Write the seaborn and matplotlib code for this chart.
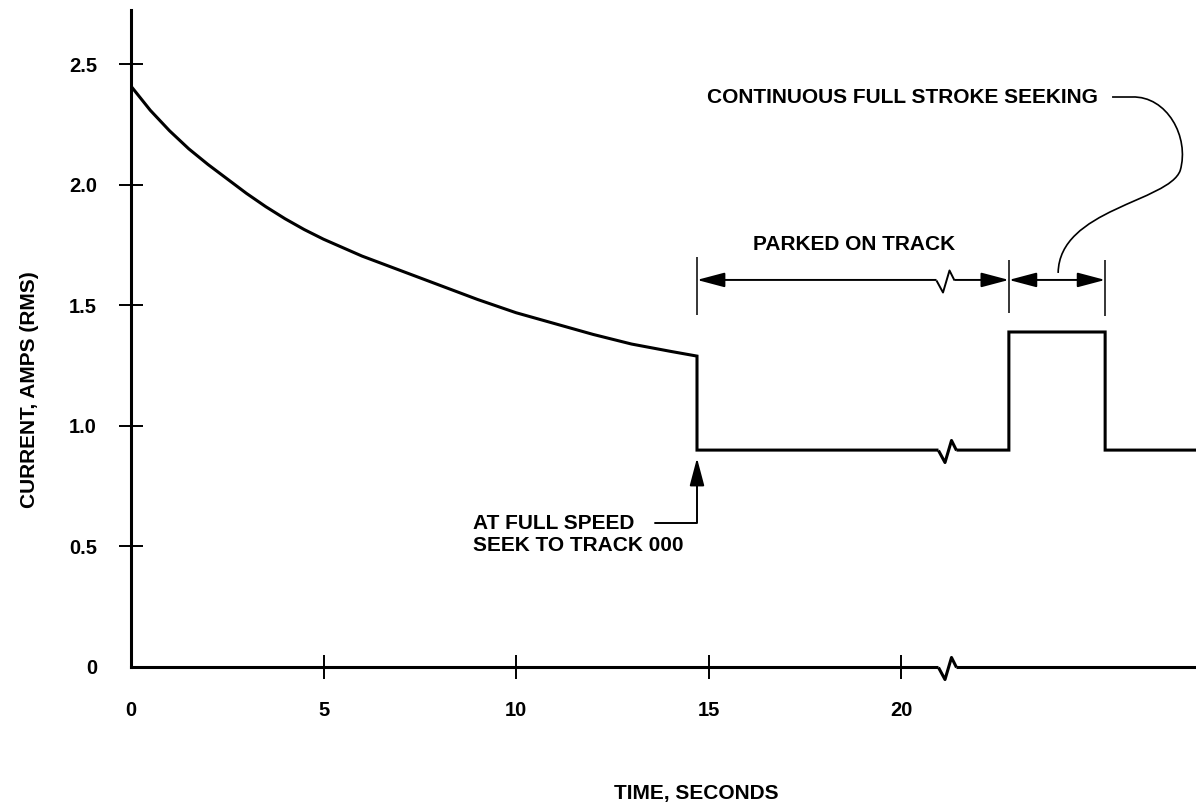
import numpy as np
import pandas as pd
import matplotlib
matplotlib.use("Agg")
import matplotlib.pyplot as plt
from matplotlib.path import Path
from matplotlib.patches import PathPatch
import seaborn as sns

# spindle-motor current trace
decay_t = [0, 0.5, 1, 1.5, 2, 2.5, 3, 3.5, 4, 4.5, 5, 5.5, 6, 7, 8, 9, 10,
           11, 12, 13, 14, 14.7]
decay_amps = [2.41, 2.31, 2.225, 2.15, 2.085, 2.025, 1.965, 1.91, 1.86, 1.815,
              1.775, 1.74, 1.705, 1.645, 1.585, 1.525, 1.47, 1.425, 1.38,
              1.34, 1.31, 1.29]
step_t = [14.7, 22.8, 22.8, 25.3, 25.3, 27.66]
step_amps = [0.9, 0.9, 1.39, 1.39, 0.9, 0.9]

x_ticks = [0, 5, 10, 15, 20]
y_ticks = [0, 0.5, 1.0, 1.5, 2.0, 2.5]
y_tick_labels = ["0", "0.5", "1.0", "1.5", "2.0", "2.5"]

seek_t = 14.7        # start of seek to track 000
park_end_t = 22.8    # end of parked period
stroke_end_t = 25.3  # end of full stroke seeking
break_t = 21.2       # axis break
span_y = 1.606

sns.set_style("white")
plt.rcParams["font.family"] = ["Liberation Sans", "DejaVu Sans"]
plt.rcParams["font.weight"] = "bold"
plt.rcParams["text.color"] = "black"

fig = plt.figure(figsize=(11.96, 8.06), dpi=100)
ax = fig.add_axes([131 / 1196, 139 / 806, 1065 / 1196, 657 / 806])

trace = pd.DataFrame({"t": decay_t + step_t, "amps": decay_amps + step_amps})
sns.lineplot(data=trace, x="t", y="amps", sort=False, estimator=None,
             errorbar=None, color="black", lw=2.2, solid_joinstyle="miter",
             ax=ax)

ax.set_xlim(0, 27.66)
ax.set_ylim(0, 2.726)
ax.set_xticks(x_ticks)
ax.set_yticks(y_ticks, y_tick_labels)
ax.tick_params(direction="inout", length=17, width=1.4, pad=16,
               labelsize=14.5, color="black", labelcolor="black",
               bottom=True, left=True)
ax.xaxis.get_major_ticks()[0].tick1line.set_visible(False)
ax.yaxis.get_major_ticks()[0].tick1line.set_visible(False)
for side in ["top", "right"]:
    ax.spines[side].set_visible(False)
for side in ["left", "bottom"]:
    ax.spines[side].set_linewidth(2.2)
    ax.spines[side].set_color("black")
ax.set_xlabel("")
ax.set_ylabel("")

# break marks (zigzag)
zig = Path([(-9, 0), (-2.5, -12), (4, 10), (9, 0)],
           [Path.MOVETO, Path.LINETO, Path.LINETO, Path.LINETO])

def draw_break(x, y, lw):
    ax.plot([x], [y], marker="_", ms=13, mew=8, color="white",
            ls="none", zorder=5, clip_on=False)
    ax.plot([x], [y], marker=zig, ms=17.3, mew=lw, mfc="none", mec="black",
            ls="none", zorder=6, clip_on=False)

draw_break(break_t, 0, 2.2)
draw_break(break_t, 0.9, 2.2)

# dimension lines
ax.vlines([seek_t, park_end_t, stroke_end_t], [1.46, 1.47, 1.455],
          [1.70, 1.69, 1.69], color="black", lw=1.1)
head = "<|-|>,head_length=1.7,head_width=0.45"
for a, b in [(seek_t, park_end_t), (park_end_t, stroke_end_t)]:
    ax.annotate("", xy=(b, span_y), xytext=(a, span_y),
                arrowprops=dict(arrowstyle=head, color="black", lw=1.4,
                                shrinkA=0, shrinkB=0, mutation_scale=10))
draw_break(break_t - 0.05, span_y, 1.4)

ax.text(18.78, 1.755, "PARKED ON TRACK", ha="center", va="center",
        fontsize=15, fontweight="bold")

# seek annotation
ax.plot([13.6, seek_t, seek_t], [0.598, 0.598, 0.80], color="black", lw=1.4)
ax.annotate("", xy=(seek_t, 0.867), xytext=(seek_t, 0.75),
            arrowprops=dict(arrowstyle="-|>,head_length=1.7,head_width=0.45",
                            color="black", lw=1.4, shrinkA=0, shrinkB=0,
                            mutation_scale=10))
ax.text(8.88, 0.55, "AT FULL SPEED\nSEEK TO TRACK 000", ha="left",
        va="center", fontsize=15, fontweight="bold", linespacing=1.2)

# continuous seeking leader
ax.text(25.12, 2.365, "CONTINUOUS FULL STROKE SEEKING", ha="right",
        va="center", fontsize=15, fontweight="bold")
leader = Path([(25.48, 2.365), (26.0, 2.365),
               (26.9, 2.37), (27.5, 2.2), (27.25, 2.06),
               (26.95, 1.93), (24.1, 1.9), (24.08, 1.635)],
              [Path.MOVETO, Path.LINETO,
               Path.CURVE4, Path.CURVE4, Path.CURVE4,
               Path.CURVE4, Path.CURVE4, Path.CURVE4])
ax.add_patch(PathPatch(leader, fill=False, lw=1.2, color="black",
                       clip_on=False))

fig.text(696 / 1196, 1 - 794 / 806, "TIME, SECONDS", ha="center",
         va="center", fontsize=15, fontweight="bold")
fig.text(30 / 1196, 1 - 390 / 806, "CURRENT, AMPS (RMS)", ha="center",
         va="center", rotation=90, fontsize=15, fontweight="bold")

fig.savefig("out.png", dpi=100, facecolor="white")
